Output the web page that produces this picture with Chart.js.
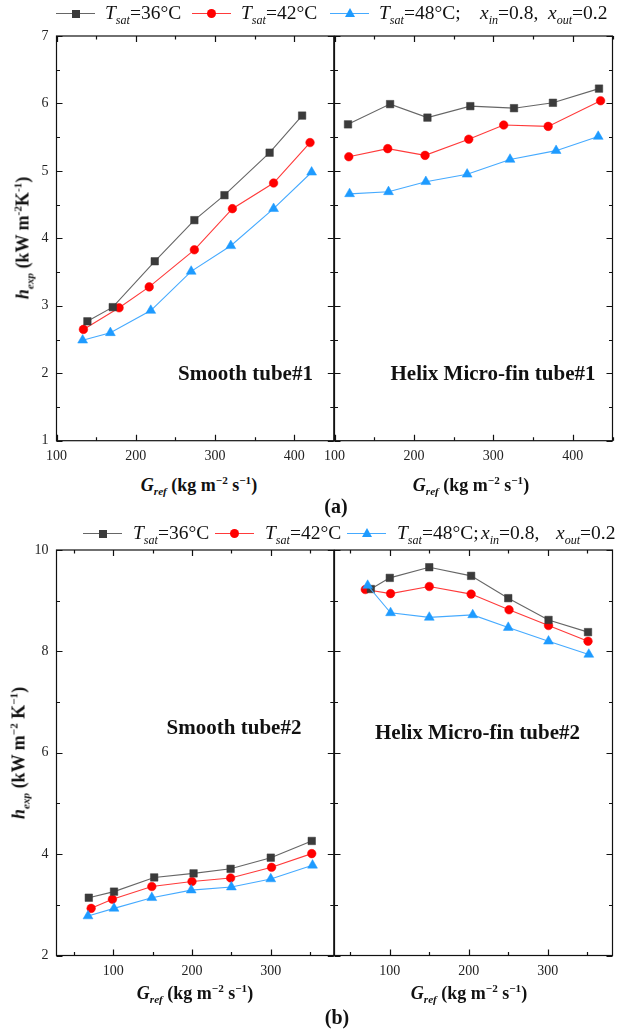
<!DOCTYPE html>
<html lang="en">
<head>
<meta charset="UTF-8">
<title>h_exp vs G_ref</title>
<script src="https://cdn.jsdelivr.net/npm/chart.js"></script>
<style>
  body { margin: 0; background: #fff; }
  #page { position: relative; width: 619px; height: 1030px; font-family: "Liberation Serif", "Times New Roman", serif; color: #111; overflow: hidden; }
  #page canvas { position: absolute; }
  .txt { position: absolute; white-space: nowrap; transform: translate(-50%, -50%); }
  .note { font-weight: bold; font-size: 21px; }
  .lab { font-weight: bold; font-size: 18px; }
  .ylab { transform: translate(-50%, -50%) rotate(-90deg); }
  .cap { font-weight: bold; font-size: 20px; }
  .leg { position: absolute; font-size: 19.5px; white-space: nowrap; transform: translateY(-50%); }
  sub, sup { font-size: 62%; line-height: 0; }
  .sym { position: absolute; width: 39px; height: 0; border-top: 1px solid; }
  .mk { position: absolute; left: 50%; }
</style>
</head>
<body>
<div id="page">
  <canvas id="a1" width="340" height="470"></canvas>
  <canvas id="a2" width="319" height="470"></canvas>
  <canvas id="b1" width="340" height="490"></canvas>
  <canvas id="b2" width="319" height="490"></canvas>
</div>
<script>
// tick values
const xTicksA = [100, 200, 300, 400];
const xMinorA = [150, 250, 350, 450];
const yTicksA = [1, 2, 3, 4, 5, 6, 7];
const yMinorA = [1.5, 2.5, 3.5, 4.5, 5.5, 6.5];
const xTicksB = [100, 200, 300];
const xMinorB = [50, 150, 250, 350];
const yTicksB = [2, 4, 6, 8, 10];
const yMinorB = [3, 5, 7, 9];

// (a) Smooth tube#1
const a1G36 = [139, 171, 224, 274, 312, 369, 410];
const a1H36 = [2.77, 2.98, 3.66, 4.27, 4.64, 5.27, 5.82];
const a1G42 = [134, 179, 217, 274, 322, 374, 420];
const a1H42 = [2.65, 2.97, 3.28, 3.83, 4.44, 4.82, 5.42];
const a1G48 = [133, 168, 219, 270, 320, 374, 422];
const a1H48 = [2.49, 2.60, 2.93, 3.51, 3.89, 4.44, 4.98];

// (a) Helix Micro-fin tube#1
const a2G36 = [117, 170, 217, 271, 326, 375, 433];
const a2H36 = [5.69, 5.99, 5.79, 5.96, 5.93, 6.01, 6.22];
const a2G42 = [118, 167, 214, 269, 313, 369, 435];
const a2H42 = [5.21, 5.33, 5.23, 5.47, 5.68, 5.66, 6.04];
const a2G48 = [119, 168, 215, 267, 321, 379, 432];
const a2H48 = [4.66, 4.69, 4.84, 4.95, 5.17, 5.30, 5.51];

// (b) Smooth tube#2
const b1G36 = [69, 101, 152, 202, 249, 300, 352];
const b1H36 = [3.14, 3.26, 3.54, 3.62, 3.71, 3.93, 4.26];
const b1G42 = [72, 99, 149, 200, 249, 301, 352];
const b1H42 = [2.93, 3.11, 3.36, 3.46, 3.53, 3.74, 4.01];
const b1G48 = [68, 101, 149, 199, 250, 300, 353];
const b1H48 = [2.78, 2.93, 3.14, 3.29, 3.35, 3.51, 3.78];

// (b) Helix Micro-fin tube#2
const b2G36 = [76, 100, 150, 203, 250, 301, 351];
const b2H36 = [9.23, 9.45, 9.66, 9.49, 9.05, 8.62, 8.38];
const b2G42 = [69, 101, 150, 203, 251, 301, 351];
const b2H42 = [9.22, 9.14, 9.28, 9.13, 8.82, 8.51, 8.20];
const b2G48 = [72, 101, 150, 205, 250, 301, 352];
const b2H48 = [9.30, 8.76, 8.67, 8.72, 8.47, 8.20, 7.94];

const legendTemps = ['36', '42', '48'];
const xIn = '0.8';
const xOut = '0.2';

const styles = [
  { marker: '#3b3b3b', line: '#666666', shape: 'rect', r: 5.3, order: 2 },
  { marker: '#ff0000', line: '#ff3a3a', shape: 'circle', r: 4.3, order: 3 },
  { marker: '#1e9bff', line: '#45aaff', shape: 'triangle', r: 5.7, order: 1 }
];

const SERIF = '"Liberation Serif", "Times New Roman", serif';

// frame with inward ticks on all four sides
const frameTicks = {
  id: 'frameTicks',
  afterDatasetsDraw(chart, args, o) {
    const { ctx, chartArea: a, scales: { x, y } } = chart;
    ctx.save();
    ctx.strokeStyle = '#111';
    ctx.lineWidth = 1.2;
    ctx.beginPath();
    const vx = (vals, len) => vals.forEach(v => {
      const px = Math.round(x.getPixelForValue(v)) + 0.5;
      ctx.moveTo(px, a.bottom); ctx.lineTo(px, a.bottom - len);
      ctx.moveTo(px, a.top); ctx.lineTo(px, a.top + len);
    });
    const vy = (vals, len) => vals.forEach(v => {
      const py = Math.round(y.getPixelForValue(v)) + 0.5;
      ctx.moveTo(a.left, py); ctx.lineTo(a.left + len, py);
      ctx.moveTo(a.right, py); ctx.lineTo(a.right - len, py);
    });
    vx(o.xMajor, 6); vx(o.xMinor, 3.5);
    vy(o.yMajor, 6); vy(o.yMinor, 3.5);
    ctx.stroke();
    ctx.strokeRect(a.left, a.top, a.right - a.left, a.bottom - a.top);
    ctx.restore();
  }
};

function makeSets(gs, hs) {
  return gs.map((g, i) => ({
    data: g.map((v, j) => ({ x: v, y: hs[i][j] })),
    showLine: true,
    borderColor: styles[i].line,
    borderWidth: 1.1,
    pointStyle: styles[i].shape,
    pointRadius: styles[i].r,
    pointBackgroundColor: styles[i].marker,
    pointBorderColor: styles[i].marker,
    pointBorderWidth: 0.5,
    order: styles[i].order,
    clip: false
  }));
}

function panel(id, pos, cfg) {
  const el = document.getElementById(id);
  el.style.left = pos.left + 'px';
  el.style.top = pos.top + 'px';
  return new Chart(el, {
    type: 'scatter',
    data: { datasets: makeSets(cfg.gs, cfg.hs) },
    options: {
      responsive: false,
      animation: false,
      devicePixelRatio: 1,
      layout: { padding: { left: pos.padL, top: pos.padT, right: pos.padR, bottom: 0 } },
      plugins: {
        legend: { display: false },
        tooltip: { enabled: false },
        frameTicks: { xMajor: cfg.xt, xMinor: cfg.xm, yMajor: cfg.yt, yMinor: cfg.ym }
      },
      scales: {
        x: {
          type: 'linear', min: cfg.xmin, max: cfg.xmax,
          grid: { display: false, drawTicks: false },
          border: { display: false },
          ticks: { font: { family: SERIF, size: 14 }, color: '#222', padding: 7, maxRotation: 0, autoSkip: false },
          afterBuildTicks: s => { s.ticks = cfg.xt.map(v => ({ value: v })); },
          afterFit: s => { s.height = pos.xh; }
        },
        y: {
          type: 'linear', min: cfg.ymin, max: cfg.ymax,
          display: pos.showY,
          grid: { display: false, drawTicks: false },
          border: { display: false },
          ticks: { font: { family: SERIF, size: 14 }, color: '#222', padding: 8 },
          afterBuildTicks: s => { s.ticks = cfg.yt.map(v => ({ value: v })); },
          afterFit: s => { s.width = pos.showY ? 56.5 : 0; }
        }
      }
    },
    plugins: [frameTicks]
  });
}

const cfgA = { xmin: 100, xmax: 450, ymin: 1, ymax: 7, xt: xTicksA, xm: xMinorA, yt: yTicksA, ym: yMinorA };
const cfgB = { ymin: 2, ymax: 10, xt: xTicksB, xm: xMinorB, yt: yTicksB, ym: yMinorB };

panel('a1', { left: 0, top: 0, padL: 0, padT: 36, padR: 5.5, xh: 29.3, showY: true },
  Object.assign({}, cfgA, { gs: [a1G36, a1G42, a1G48], hs: [a1H36, a1H42, a1H48] }));
panel('a2', { left: 300, top: 0, padL: 34.5, padT: 36, padR: 6.5, xh: 29.3, showY: false },
  Object.assign({}, cfgA, { gs: [a2G36, a2G42, a2G48], hs: [a2H36, a2H42, a2H48] }));
panel('b1', { left: 0, top: 500, padL: 0, padT: 50, padR: 5.5, xh: 34.5, showY: true },
  Object.assign({}, cfgB, { xmin: 28, xmax: 380, gs: [b1G36, b1G42, b1G48], hs: [b1H36, b1H42, b1H48] }));
panel('b2', { left: 300, top: 500, padL: 34.5, padT: 50, padR: 6.5, xh: 34.5, showY: false },
  Object.assign({}, cfgB, { xmin: 30, xmax: 382, gs: [b2G36, b2G42, b2G48], hs: [b2H36, b2H42, b2H48] }));

// text overlays
const page = document.getElementById('page');
function addText(html, cls, x, y) {
  const d = document.createElement('div');
  d.className = 'txt ' + cls;
  d.style.left = x + 'px';
  d.style.top = y + 'px';
  d.innerHTML = html;
  page.appendChild(d);
}

const gLabel = '<i>G</i><sub><i>ref</i></sub> (kg m<sup>&minus;2</sup> s<sup>&minus;1</sup>)';
addText('Smooth tube#1', 'note', 245.5, 373);
addText('Helix Micro-fin tube#1', 'note', 493, 373);
addText('Smooth tube#2', 'note', 234, 727);
addText('Helix Micro-fin tube#2', 'note', 477.5, 732);
addText(gLabel, 'lab', 199, 485);
addText(gLabel, 'lab', 471, 485);
addText(gLabel, 'lab', 195, 993);
addText(gLabel, 'lab', 469, 993);
addText('<i>h</i><sub><i>exp</i></sub> (kW m<sup>-2</sup>K<sup>-1</sup>)', 'lab ylab', 23, 238);
addText('<i>h</i><sub><i>exp</i></sub> (kW m<sup>&minus;2</sup> K<sup>&minus;1</sup>)', 'lab ylab', 19, 753);
addText('(a)', 'cap', 336, 506);
addText('(b)', 'cap', 337, 1017);

function marker(st) {
  const m = document.createElement('div');
  m.className = 'mk';
  if (st.shape === 'rect') {
    Object.assign(m.style, { width: '8px', height: '8px', marginLeft: '-4px', top: '-4.5px', background: st.marker });
  } else if (st.shape === 'circle') {
    Object.assign(m.style, { width: '9px', height: '9px', marginLeft: '-4.5px', top: '-5px', background: st.marker, borderRadius: '50%' });
  } else {
    Object.assign(m.style, { width: 0, height: 0, marginLeft: '-5px', top: '-6.5px',
      borderLeft: '5px solid transparent', borderRight: '5px solid transparent', borderBottom: '9px solid ' + st.marker });
  }
  return m;
}

function legend(y, symX, textX, xinX, xoutX) {
  styles.forEach((st, i) => {
    const s = document.createElement('div');
    s.className = 'sym';
    s.style.left = symX[i] + 'px';
    s.style.top = y + 'px';
    s.style.borderColor = st.line;
    s.appendChild(marker(st));
    page.appendChild(s);
    const t = document.createElement('div');
    t.className = 'leg';
    t.style.left = textX[i] + 'px';
    t.style.top = y + 'px';
    t.innerHTML = '<i>T</i><sub><i>sat</i></sub>=' + legendTemps[i] + '°C' + (i === 2 ? ';' : '');
    page.appendChild(t);
  });
  const a = document.createElement('div');
  a.className = 'leg';
  a.style.left = xinX + 'px';
  a.style.top = y + 'px';
  a.innerHTML = '<i>x</i><sub><i>in</i></sub>=' + xIn + ',';
  page.appendChild(a);
  const b = document.createElement('div');
  b.className = 'leg';
  b.style.left = xoutX + 'px';
  b.style.top = y + 'px';
  b.innerHTML = '<i>x</i><sub><i>out</i></sub>=' + xOut;
  page.appendChild(b);
}

legend(13, [56, 192, 330], [105, 241, 379], 480, 548);
legend(533, [83, 215, 347], [133, 265, 397], 481, 556);
</script>
</body>
</html>
